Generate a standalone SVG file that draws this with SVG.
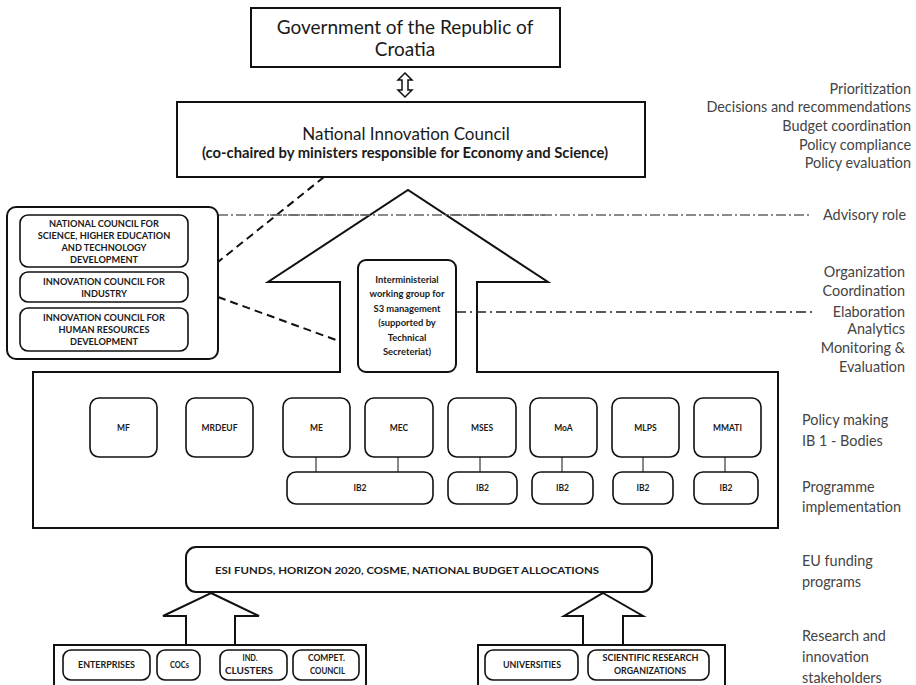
<svg xmlns="http://www.w3.org/2000/svg" width="916" height="685" viewBox="0 0 916 685">
<style>
text{font-family:Lato,"Open Sans","Liberation Sans",sans-serif;fill:#1a1a1a}
.box{fill:#fff;stroke:#111;stroke-width:2}
.rb{fill:#fff;stroke:#111;stroke-width:1.6}
.t{text-anchor:middle}
.b{font-weight:bold}
.side{font-size:14.4px;fill:#444}
.sm{font-size:9.2px;font-weight:bold;text-anchor:middle}
.im{font-size:9.4px;font-weight:bold;text-anchor:middle}
.st{font-size:9.4px;font-weight:bold;text-anchor:middle}
.min{font-size:8.5px;font-weight:bold;text-anchor:middle}
.dash{stroke:#111;stroke-width:2;stroke-dasharray:8,5;fill:none}
.dd{stroke:#666;stroke-width:1.3;stroke-dasharray:10,3,2,3;fill:none}
.dd2{stroke:#222;stroke-width:1.6;stroke-dasharray:10,4,2,4;fill:none}
.ln{stroke:#111;stroke-width:1;fill:none}
</style>
<rect width="916" height="685" fill="#fff"/>

<g id="connectors">
<path d="M405,73 L412,80 L408,80 L408,90 L412,90 L405,97 L398,90 L402,90 L402,80 L398,80 Z" style="fill:#fff;stroke:#111;stroke-width:1.5"/>
<line class="dash" x1="324" y1="177" x2="218" y2="262"/>
<line class="dash" x1="218" y1="297" x2="358" y2="348"/>
<line class="dd" x1="218" y1="215" x2="812" y2="215"/>
</g>

<g id="government">
<rect class="box" x="251" y="8" width="309" height="59"/>
<text class="t" x="405" y="34" font-size="19">Government of the Republic of</text>
<text class="t" x="405" y="56" font-size="19">Croatia</text>
</g>

<g id="nic">
<rect class="box" x="177" y="102" width="468" height="75"/>
<text class="t" x="406" y="140" font-size="17">National Innovation Council</text>
<text class="t b" x="405" y="158" font-size="14.8">(co-chaired by ministers responsible for Economy and Science)</text>
</g>

<g id="nic-roles">
<text x="911" y="94" text-anchor="end" class="side">Prioritization</text>
<text x="911" y="112" text-anchor="end" class="side">Decisions and recommendations</text>
<text x="911" y="131" text-anchor="end" class="side">Budget coordination</text>
<text x="911" y="150" text-anchor="end" class="side">Policy compliance</text>
<text x="911" y="168" text-anchor="end" class="side">Policy evaluation</text>
<text x="906" y="220" text-anchor="end" class="side">Advisory role</text>
</g>

<g id="advisory">
<rect class="box" x="7" y="207" width="211" height="152" rx="9"/>
<rect class="rb" x="20" y="215" width="168" height="52" rx="8"/>
<text class="sm" x="104" y="227">NATIONAL COUNCIL FOR</text>
<text class="sm" x="104" y="239">SCIENCE, HIGHER EDUCATION</text>
<text class="sm" x="104" y="251">AND TECHNOLOGY</text>
<text class="sm" x="104" y="263">DEVELOPMENT</text>
<rect class="rb" x="20" y="272" width="168" height="30" rx="8"/>
<text class="sm" x="104" y="285">INNOVATION COUNCIL FOR</text>
<text class="sm" x="104" y="297">INDUSTRY</text>
<rect class="rb" x="20" y="308" width="168" height="43" rx="8"/>
<text class="sm" x="104" y="321">INNOVATION COUNCIL FOR</text>
<text class="sm" x="104" y="333">HUMAN RESOURCES</text>
<text class="sm" x="104" y="345">DEVELOPMENT</text>
</g>

<g id="house">
<path class="box" d="M340,372 L340,282 L268,282 L408,190 L548,282 L477,282 L477,372 L778,372 L778,528 L33,528 L33,372 Z"/>
<line class="dd" x1="270" y1="215" x2="545" y2="215"/>
</g>

<g id="interministerial">
<line class="dd2" x1="456" y1="312" x2="815" y2="312"/>
<rect class="box" x="358" y="260" width="98" height="112" rx="8"/>
<text class="im" x="407" y="283">Interministerial</text>
<text class="im" x="407" y="297">working group for</text>
<text class="im" x="407" y="312">S3 management</text>
<text class="im" x="407" y="326">(supported by</text>
<text class="im" x="407" y="341">Technical</text>
<text class="im" x="407" y="355">Secreteriat)</text>
</g>

<g id="operational-roles">
<text x="905" y="277" text-anchor="end" class="side">Organization</text>
<text x="905" y="296" text-anchor="end" class="side">Coordination</text>
<text x="905" y="317" text-anchor="end" class="side">Elaboration</text>
<text x="905" y="334" text-anchor="end" class="side">Analytics</text>
<text x="905" y="353" text-anchor="end" class="side">Monitoring &amp;</text>
<text x="905" y="372" text-anchor="end" class="side">Evaluation</text>
</g>

<g id="ministry-links">
<line class="ln" x1="316" y1="457" x2="316" y2="472"/>
<line class="ln" x1="398" y1="457" x2="398" y2="472"/>
<line class="ln" x1="480" y1="457" x2="480" y2="472"/>
<line class="ln" x1="562" y1="457" x2="562" y2="472"/>
<line class="ln" x1="643" y1="457" x2="643" y2="472"/>
<line class="ln" x1="725" y1="457" x2="725" y2="472"/>
</g>

<g id="ministries">
<g id="mf"><rect class="rb" x="90" y="398" width="67" height="59" rx="9"/><text class="min" x="123.5" y="431">MF</text></g>
<g id="mrdeuf"><rect class="rb" x="186" y="398" width="67" height="59" rx="9"/><text class="min" x="219.5" y="431">MRDEUF</text></g>
<g id="me"><rect class="rb" x="283" y="398" width="67" height="59" rx="9"/><text class="min" x="316.5" y="431">ME</text></g>
<g id="mec"><rect class="rb" x="365" y="398" width="68" height="59" rx="9"/><text class="min" x="399" y="431">MEC</text></g>
<g id="mses"><rect class="rb" x="448" y="398" width="68" height="59" rx="9"/><text class="min" x="482" y="431">MSES</text></g>
<g id="moa"><rect class="rb" x="530" y="398" width="67" height="59" rx="9"/><text class="min" x="563.5" y="431">MoA</text></g>
<g id="mlps"><rect class="rb" x="612" y="398" width="67" height="59" rx="9"/><text class="min" x="645.5" y="431">MLPS</text></g>
<g id="mmati"><rect class="rb" x="694" y="398" width="67" height="59" rx="9"/><text class="min" x="727.5" y="431">MMATI</text></g>
</g>

<g id="ib2">
<g id="ib2-a"><rect class="rb" x="287" y="472" width="146" height="32" rx="9"/><text class="min" x="360" y="491">IB2</text></g>
<g id="ib2-b"><rect class="rb" x="448" y="472" width="69" height="32" rx="9"/><text class="min" x="482.5" y="491">IB2</text></g>
<g id="ib2-c"><rect class="rb" x="532" y="472" width="61" height="32" rx="9"/><text class="min" x="562.5" y="491">IB2</text></g>
<g id="ib2-d"><rect class="rb" x="613" y="472" width="60" height="32" rx="9"/><text class="min" x="643" y="491">IB2</text></g>
<g id="ib2-e"><rect class="rb" x="694" y="472" width="64" height="32" rx="9"/><text class="min" x="726" y="491">IB2</text></g>
</g>

<g id="level-labels">
<text x="802" y="425" class="side">Policy making</text>
<text x="802" y="446" class="side">IB 1 - Bodies</text>
<text x="802" y="492" class="side">Programme</text>
<text x="802" y="512" class="side">implementation</text>
<text x="802" y="566" class="side">EU funding</text>
<text x="802" y="587" class="side">programs</text>
<text x="802" y="641" class="side">Research and</text>
<text x="802" y="662" class="side">innovation</text>
<text x="802" y="683" class="side">stakeholders</text>
</g>

<g id="funding">
<rect class="box" x="186" y="547" width="466" height="45" rx="10"/>
<text class="min" x="407" y="574" font-size="12" textLength="384" lengthAdjust="spacingAndGlyphs">ESI FUNDS, HORIZON 2020, COSME, NATIONAL BUDGET ALLOCATIONS</text>
</g>

<g id="stakeholder-arrows">
<path class="box" d="M211,593 L259,616 L235,616 L235,645 L186,645 L186,616 L163,616 Z"/>
<path class="box" d="M603,593 L643,616 L623,616 L623,645 L583,645 L583,616 L564,616 Z"/>
</g>

<g id="business">
<rect class="box" x="54" y="645" width="312" height="45"/>
<g id="enterprises"><rect class="rb" x="63" y="650" width="87" height="30" rx="8"/><text class="st" x="106.5" y="668" textLength="57" lengthAdjust="spacingAndGlyphs">ENTERPRISES</text></g>
<g id="cocs"><rect class="rb" x="157" y="650" width="43" height="30" rx="8"/><text class="st" x="179.5" y="668" textLength="19" lengthAdjust="spacingAndGlyphs">COCs</text></g>
<g id="clusters"><rect class="rb" x="220" y="650" width="67" height="30" rx="8"/><text class="st" x="250" y="661" textLength="15" lengthAdjust="spacingAndGlyphs">IND.</text><text class="st" x="249" y="674" textLength="48" lengthAdjust="spacingAndGlyphs">CLUSTERS</text></g>
<g id="compet"><rect class="rb" x="293" y="650" width="66" height="30" rx="8"/><text class="st" x="326.5" y="661" textLength="37" lengthAdjust="spacingAndGlyphs">COMPET.</text><text class="st" x="327.5" y="674" textLength="35" lengthAdjust="spacingAndGlyphs">COUNCIL</text></g>
</g>

<g id="research">
<rect class="box" x="478" y="645" width="247" height="45"/>
<g id="universities"><rect class="rb" x="485" y="650" width="93" height="30" rx="8"/><text class="st" x="532" y="668" textLength="58" lengthAdjust="spacingAndGlyphs">UNIVERSITIES</text></g>
<g id="sro"><rect class="rb" x="588" y="650" width="121" height="30" rx="8"/><text class="st" x="650.5" y="661" textLength="96" lengthAdjust="spacingAndGlyphs">SCIENTIFIC RESEARCH</text><text class="st" x="650" y="674" textLength="72" lengthAdjust="spacingAndGlyphs">ORGANIZATIONS</text></g>
</g>
</svg>
